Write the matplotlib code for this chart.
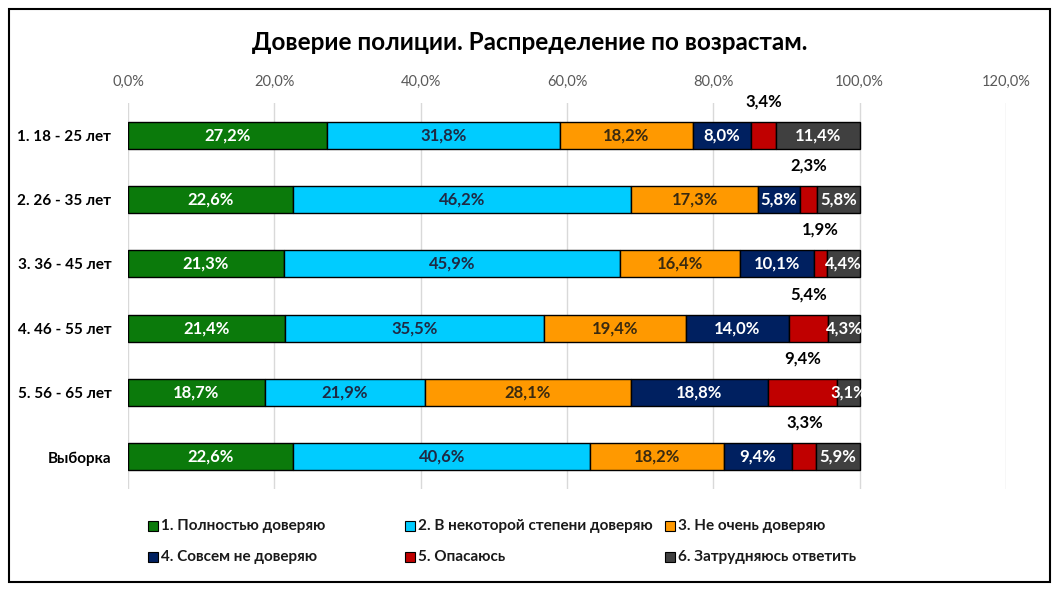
import matplotlib
matplotlib.use("Agg")
import matplotlib.pyplot as plt
from matplotlib.patches import Rectangle
import numpy as np

plt.rcParams["font.family"] = ["Lato", "DejaVu Sans"]

# ---------------------------------------------------------------------------
# Data
# ---------------------------------------------------------------------------
groups = ["1. 18 - 25 лет", "2. 26 - 35 лет", "3. 36 - 45 лет",
          "4. 46 - 55 лет", "5. 56 - 65 лет", "Выборка"]
series = ["1. Полностью доверяю", "2. В некоторой степени доверяю",
          "3. Не очень доверяю", "4. Совсем не доверяю",
          "5. Опасаюсь", "6. Затрудняюсь ответить"]
full_trust = [27.2, 22.6, 21.3, 21.4, 18.7, 22.6]
some_trust = [31.8, 46.2, 45.9, 35.5, 21.9, 40.6]
little_trust = [18.2, 17.3, 16.4, 19.4, 28.1, 18.2]
no_trust = [8.0, 5.8, 10.1, 14.0, 18.8, 9.4]
afraid = [3.4, 2.3, 1.9, 5.4, 9.4, 3.3]
hard_to_say = [11.4, 5.8, 4.4, 4.3, 3.1, 5.9]
xticks = [0, 20, 40, 60, 80, 100, 120]

values = [full_trust, some_trust, little_trust, no_trust, afraid, hard_to_say]
colors = ["#0b7a0b", "#00ccff", "#ff9900", "#002060", "#c00000", "#404040"]
text_colors = ["white", "#1f2a44", "#3a2a10", "white", "black", "white"]

# ---------------------------------------------------------------------------
# Figure
# ---------------------------------------------------------------------------
fig = plt.figure(figsize=(10.59, 5.91), dpi=100)
ax = fig.add_axes([128 / 1059, 1 - 489 / 591, (1006 - 128) / 1059, 386 / 591])

y = np.arange(len(groups))
left = np.zeros(len(groups))
for k, (vals, col, tcol) in enumerate(zip(values, colors, text_colors)):
    vals = np.array(vals)
    ax.barh(y, vals, left=left, height=0.42, color=col,
            edgecolor="black", linewidth=1.0, zorder=3)
    for i, v in enumerate(vals):
        cx = left[i] + v / 2
        lab = f"{v:.1f}%".replace(".", ",")
        if k == 4:
            # "Опасаюсь" labels sit above the bar
            ax.text(cx, y[i] - 0.53, lab, ha="center", va="center",
                    fontsize=12, fontweight="bold", color="black", zorder=5)
        else:
            ax.text(cx, y[i], lab, ha="center", va="center",
                    fontsize=12, fontweight="bold", color=tcol, zorder=5)
    left += vals

ax.set_xlim(0, 120)
ax.set_ylim(len(groups) - 0.5, -0.5)
ax.set_xticks(xticks)
ax.set_xticklabels([f"{t:.1f}%".replace(".", ",") for t in xticks],
                   fontsize=10.5, color="#595959")
ax.xaxis.tick_top()
ax.tick_params(axis="x", length=0, pad=10)
ax.set_yticks(y)
ax.set_yticklabels(groups, fontsize=11, fontweight="bold")
ax.tick_params(axis="y", length=0, pad=12)
ax.grid(axis="x", color="#d9d9d9", linewidth=1.0, zorder=0)
for s in ax.spines.values():
    s.set_visible(False)

fig.text(0.5, 1 - 42 / 591, "Доверие полиции. Распределение по возрастам.",
         ha="center", va="center", fontsize=17.5, fontweight="bold")

# legend, laid out by hand in the 3x2 grid of the original
leg_x = [148, 405, 665]
leg_y = [526, 557]
for k, (name, col) in enumerate(zip(series, colors)):
    px = leg_x[k % 3]
    py = leg_y[k // 3]
    fig.add_artist(Rectangle((px / 1059, 1 - (py + 5) / 591), 10 / 1059, 10 / 591,
                             transform=fig.transFigure, facecolor=col,
                             edgecolor="black", linewidth=0.8))
    fig.text((px + 13) / 1059, 1 - py / 591, name, ha="left", va="center",
             fontsize=11, fontweight="bold", color="#1a1a1a")

fig.add_artist(Rectangle((9 / 1059, 9 / 591), 1041 / 1059, 573 / 591,
                         transform=fig.transFigure, fill=False,
                         edgecolor="black", linewidth=1.5))

fig.savefig("out.png", dpi=100)
